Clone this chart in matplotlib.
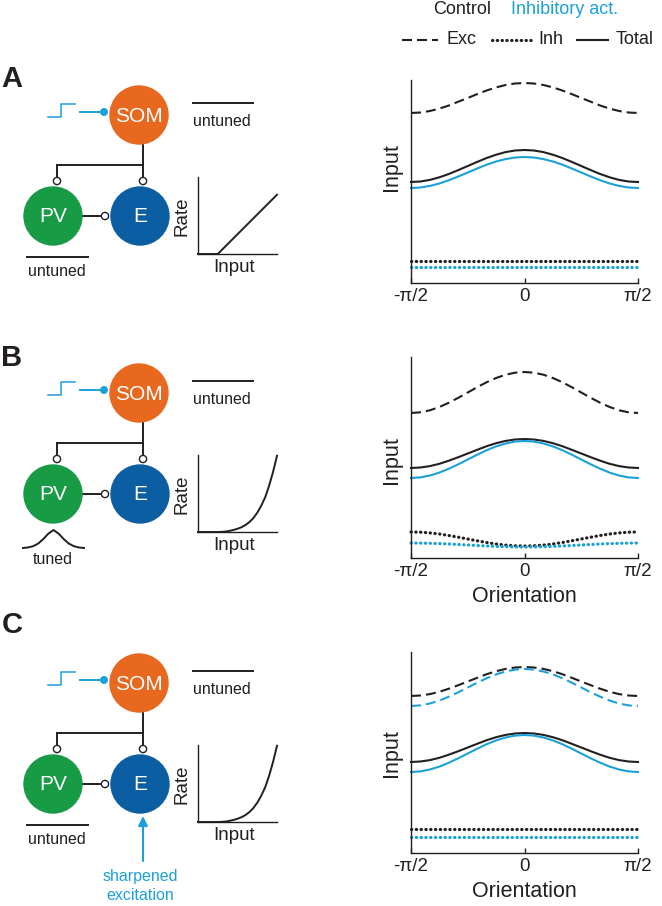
import numpy as np
import matplotlib
matplotlib.use("Agg")
import matplotlib.pyplot as plt
from matplotlib.patches import Circle

plt.rcParams['font.family'] = ['Liberation Sans', 'DejaVu Sans']

W, H = 662, 906

ORANGE = '#E8681F'
GREEN = '#189B45'
BLUE = '#0C5EA2'
CYAN = '#1BA1D8'
INK = '#231F20'

# orientation samples, -pi/2 .. pi/2
theta = np.linspace(-np.pi / 2, np.pi / 2, 25)
tick_pos = [-np.pi / 2, 0, np.pi / 2]
tick_labels = ['-π/2', '0', 'π/2']

# panel A (arbitrary input units)
a_exc = [170.0, 170.5, 172.0, 174.4, 177.5, 181.3, 185.0, 188.9, 192.5, 195.6, 198.0, 199.5, 200.0,
         199.5, 198.0, 195.6, 192.5, 188.9, 185.0, 181.3, 177.5, 174.4, 172.0, 170.5, 170.0]
a_tot_ctrl = [101.0, 101.5, 103.1, 105.7, 109.0, 112.9, 117.0, 121.1, 125.0, 128.3, 130.9, 132.5, 133.0,
              132.5, 130.9, 128.3, 125.0, 121.1, 117.0, 112.9, 109.0, 105.7, 103.1, 101.5, 101.0]
a_tot_act = [95.0, 95.5, 97.1, 99.5, 102.8, 106.5, 110.5, 114.5, 118.3, 121.5, 123.9, 125.5, 126.0,
             125.5, 123.9, 121.5, 118.3, 114.5, 110.5, 106.5, 102.8, 99.5, 97.1, 95.5, 95.0]
a_inh_ctrl = [22] * 25
a_inh_act = [16] * 25

# panel B
b_exc = [145.0, 145.7, 147.7, 151.0, 155.3, 160.2, 165.5, 170.8, 175.8, 180.0, 183.3, 185.3, 186.0,
         185.3, 183.3, 180.0, 175.8, 170.8, 165.5, 160.2, 155.3, 151.0, 147.7, 145.7, 145.0]
b_tot_ctrl = [90.0, 90.5, 91.9, 94.2, 97.3, 100.8, 104.5, 108.2, 111.8, 114.8, 117.1, 118.5, 119.0,
              118.5, 117.1, 114.8, 111.8, 108.2, 104.5, 100.8, 97.3, 94.2, 91.9, 90.5, 90.0]
b_tot_act = [80.0, 80.6, 82.5, 85.4, 89.3, 93.7, 98.5, 103.3, 107.8, 111.6, 114.5, 116.4, 117.0,
             116.4, 114.5, 111.6, 107.8, 103.3, 98.5, 93.7, 89.3, 85.4, 82.5, 80.6, 80.0]
b_inh_ctrl = [26.0, 25.8, 25.1, 24.0, 22.5, 20.8, 19.0, 17.2, 15.5, 14.0, 12.9, 12.2, 12.0,
              12.2, 12.9, 14.0, 15.5, 17.2, 19.0, 20.8, 22.5, 24.0, 25.1, 25.8, 26.0]
b_inh_act = [15.0, 14.9, 14.7, 14.4, 14.0, 13.5, 13.0, 12.5, 12.0, 11.6, 11.3, 11.1, 11.0,
             11.1, 11.3, 11.6, 12.0, 12.5, 13.0, 13.5, 14.0, 14.4, 14.7, 14.9, 15.0]

# panel C
c_exc_ctrl = [157.0, 157.5, 158.9, 161.2, 164.3, 167.8, 171.5, 175.2, 178.8, 181.8, 184.1, 185.5, 186.0,
              185.5, 184.1, 181.8, 178.8, 175.2, 171.5, 167.8, 164.3, 161.2, 158.9, 157.5, 157.0]
c_exc_act = [147.0, 147.6, 149.5, 152.4, 156.3, 160.7, 165.5, 170.3, 174.8, 178.6, 181.5, 183.4, 184.0,
             183.4, 181.5, 178.6, 174.8, 170.3, 165.5, 160.7, 156.3, 152.4, 149.5, 147.6, 147.0]
c_tot_ctrl = [91.0, 91.5, 92.9, 95.2, 98.3, 101.8, 105.5, 109.2, 112.8, 115.8, 118.1, 119.5, 120.0,
              119.5, 118.1, 115.8, 112.8, 109.2, 105.5, 101.8, 98.3, 95.2, 92.9, 91.5, 91.0]
c_tot_act = [81.0, 81.6, 83.5, 86.4, 90.3, 94.7, 99.5, 104.3, 108.8, 112.6, 115.5, 117.4, 118.0,
             117.4, 115.5, 112.6, 108.8, 104.3, 99.5, 94.7, 90.3, 86.4, 83.5, 81.6, 81.0]
c_inh_ctrl = [24] * 25
c_inh_act = [16] * 25

# rate vs input insets
fi_lin_x = [0, 0.25, 1.0]
fi_lin_y = [0, 0, 0.77]
fi_pow_x = [0, 0.05, 0.1, 0.15, 0.2, 0.25, 0.3, 0.35, 0.4, 0.45, 0.5,
            0.55, 0.6, 0.65, 0.7, 0.75, 0.8, 0.85, 0.9, 0.95, 1.0]
fi_pow_y = [0, 0, 0, 0, 0, 0, 0.002, 0.006, 0.015, 0.027, 0.042,
            0.062, 0.09, 0.128, 0.18, 0.25, 0.34, 0.45, 0.6, 0.78, 0.99]

# PV tuning bump (icon)
tuned_bump = [0, 0.03, 0.1, 0.25, 0.5, 0.8, 1, 0.8, 0.5, 0.25, 0.1, 0.03, 0]

DASH = (4.8, 2.4)
DOT = (0, (0.1, 1.4))


def fig_rect(left, top, right, bottom):
    return [left / W, 1 - bottom / H, (right - left) / W, (bottom - top) / H]


fig = plt.figure(figsize=(W / 100, H / 100), dpi=100)
ov = fig.add_axes([0, 0, 1, 1])
ov.set_xlim(0, W)
ov.set_ylim(H, 0)
ov.axis('off')


def open_dot(x, y):
    ov.add_patch(Circle((x, y), 3.6, facecolor='white', edgecolor=INK, lw=1.0, zorder=5))


def circuit(dy, pv_tuned):
    # light step + activation arrow onto SOM
    ov.plot([48, 61, 61, 75], [117 + dy, 117 + dy, 104 + dy, 104 + dy], color=CYAN, lw=1.1)
    ov.plot([80, 103], [112 + dy, 112 + dy], color=CYAN, lw=1.4)
    ov.add_patch(Circle((104, 112 + dy), 3.3, color=CYAN, zorder=5))
    # cells
    for (cx, cy), col, name in [((139, 115), ORANGE, 'SOM'), ((53, 216), GREEN, 'PV'),
                                ((140, 216), BLUE, 'E')]:
        ov.add_patch(Circle((cx, cy + dy), 29, color=col, zorder=3))
        ov.text(cx, cy + dy + 1, name, color='white', fontsize=15, ha='center',
                va='center', zorder=4)
    # SOM projections
    ov.plot([143, 143], [145 + dy, 178 + dy], color=INK, lw=1.4, zorder=2)
    ov.plot([57, 143], [165 + dy, 165 + dy], color=INK, lw=1.4, zorder=2)
    ov.plot([57, 57], [165 + dy, 178 + dy], color=INK, lw=1.4, zorder=2)
    open_dot(57, 181 + dy)
    open_dot(143, 181 + dy)
    # PV -> E
    ov.plot([82, 102], [216 + dy, 216 + dy], color=INK, lw=1.4, zorder=2)
    open_dot(105, 216 + dy)
    # SOM tuning note
    ov.plot([193, 253], [103 + dy, 103 + dy], color=INK, lw=1.4)
    ov.text(222, 121 + dy, 'untuned', fontsize=11.5, color=INK, ha='center', va='center')
    # PV tuning note
    if pv_tuned:
        bx = np.linspace(23, 84, len(tuned_bump))
        ov.plot(bx, [270 + dy - 18 * v for v in tuned_bump], color=INK, lw=1.4)
        ov.text(53, 281 + dy, 'tuned', fontsize=11.5, color=INK, ha='center', va='center')
    else:
        ov.plot([27, 88], [257 + dy, 257 + dy], color=INK, lw=1.4)
        ov.text(57, 272 + dy, 'untuned', fontsize=11.5, color=INK, ha='center', va='center')


def fi_inset(dy, xs, ys):
    ax = fig.add_axes(fig_rect(198, 177 + dy, 277, 254 + dy))
    ax.plot(xs, ys, color=INK, lw=1.4, clip_on=False)
    ax.set_xlim(0, 1)
    ax.set_ylim(0, 1)
    ax.set_xticks([])
    ax.set_yticks([])
    for s in ['top', 'right']:
        ax.spines[s].set_visible(False)
    for s in ['left', 'bottom']:
        ax.spines[s].set_linewidth(1.0)
        ax.spines[s].set_color(INK)
    ov.text(182, 216 + dy, 'Rate', fontsize=13.5, rotation=90, color=INK,
            ha='center', va='center')
    ov.text(234, 267 + dy, 'Input', fontsize=13.5, color=INK, ha='center', va='center')


def tuning_panel(top, bottom, curves, xlabel, ylab_y):
    ax = fig.add_axes(fig_rect(411, top, 638, bottom))
    for vals, col, style in curves:
        if style == 'dash':
            ax.plot(theta, vals, color=col, lw=1.5, dashes=DASH, clip_on=False)
        elif style == 'dot':
            ax.plot(theta, vals, color=col, lw=2.3, linestyle=DOT,
                    dash_capstyle='round', clip_on=False)
        else:
            ax.plot(theta, vals, color=col, lw=1.5, clip_on=False)
    ax.set_xlim(-np.pi / 2, np.pi / 2)
    ax.set_ylim(0, bottom - top)
    ax.set_yticks([])
    ax.set_xticks(tick_pos)
    ax.set_xticklabels(tick_labels, fontsize=13.5, color=INK)
    ax.tick_params(axis='x', direction='in', length=3.5, width=1.0, pad=3.5, color=INK)
    for s in ['top', 'right']:
        ax.spines[s].set_visible(False)
    for s in ['left', 'bottom']:
        ax.spines[s].set_linewidth(1.0)
        ax.spines[s].set_color(INK)
    if xlabel:
        ax.set_xlabel('Orientation', fontsize=15.5, color=INK, labelpad=4.5)
    ov.text(392, ylab_y, 'Input', fontsize=15.5, rotation=90, color=INK,
            ha='center', va='center')
    return ax


# panel letters
for lab, y in [('A', 79), ('B', 358), ('C', 625)]:
    ov.text(12, y, lab, fontsize=21, fontweight='bold', color=INK, ha='center', va='center')

circuit(0, False)
circuit(278, True)
circuit(568, False)
fi_inset(0, fi_lin_x, fi_lin_y)
fi_inset(278, fi_pow_x, fi_pow_y)
fi_inset(568, fi_pow_x, fi_pow_y)

# sharpened excitation arrow (panel C)
ov.annotate('', xy=(143, 816), xytext=(143, 861),
            arrowprops=dict(arrowstyle='-|>', color=CYAN, lw=1.5,
                            mutation_scale=14, shrinkA=0, shrinkB=0))
ov.text(140, 876, 'sharpened', fontsize=11.5, color=CYAN, ha='center', va='center')
ov.text(140, 895, 'excitation', fontsize=11.5, color=CYAN, ha='center', va='center')

tuning_panel(80, 283, [(a_exc, INK, 'dash'), (a_tot_ctrl, INK, 'solid'),
                       (a_tot_act, CYAN, 'solid'), (a_inh_ctrl, INK, 'dot'),
                       (a_inh_act, CYAN, 'dot')], False, 167)
tuning_panel(357, 558, [(b_exc, INK, 'dash'), (b_tot_ctrl, INK, 'solid'),
                        (b_tot_act, CYAN, 'solid'), (b_inh_ctrl, INK, 'dot'),
                        (b_inh_act, CYAN, 'dot')], True, 460)
tuning_panel(652, 853, [(c_exc_ctrl, INK, 'dash'), (c_exc_act, CYAN, 'dash'),
                        (c_tot_ctrl, INK, 'solid'), (c_tot_act, CYAN, 'solid'),
                        (c_inh_ctrl, INK, 'dot'), (c_inh_act, CYAN, 'dot')], True, 753)

# legend
ov.text(462, 10, 'Control', fontsize=13, color=INK, ha='center', va='center')
ov.text(565, 10, 'Inhibitory act.', fontsize=13, color=CYAN, ha='center', va='center')
ov.plot([402, 438], [40, 40], color=INK, lw=1.5, dashes=DASH)
ov.text(462, 40, 'Exc', fontsize=13, color=INK, ha='center', va='center')
ov.plot([492, 533], [40, 40], color=INK, lw=2.3, linestyle=DOT, dash_capstyle='round')
ov.text(551, 40, 'Inh', fontsize=13, color=INK, ha='center', va='center')
ov.plot([577, 608], [40, 40], color=INK, lw=1.5)
ov.text(635, 40, 'Total', fontsize=13, color=INK, ha='center', va='center')

fig.savefig('out.png', dpi=100)
